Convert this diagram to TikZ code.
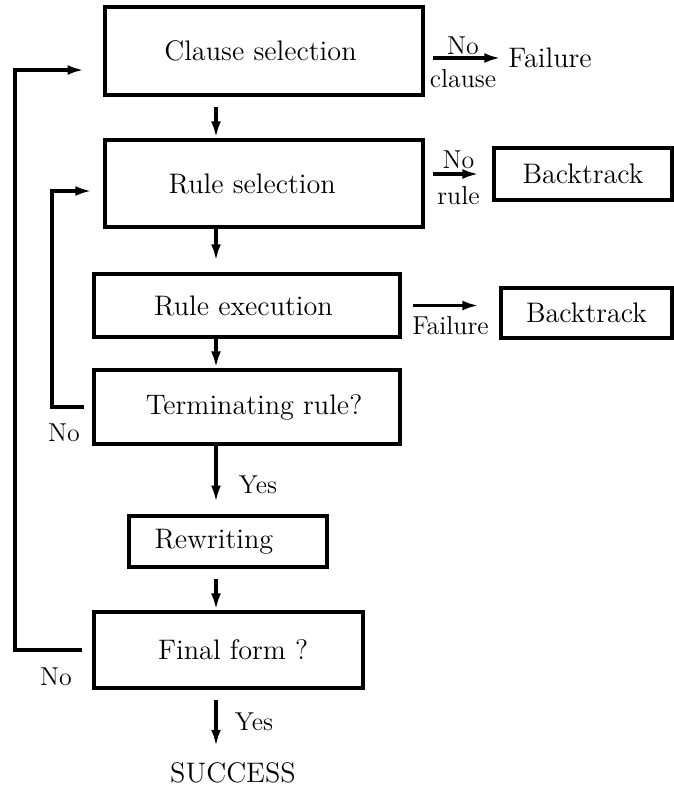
\documentclass[tikz,border=0pt]{standalone}
\usepackage{tikz}
\usetikzlibrary{arrows.meta, positioning}
\tikzset{
    box/.style={rectangle, draw, line width=1.8pt, inner sep=0pt, font=\fontsize{12}{14}\selectfont},
    plain/.style={inner sep=3pt, font=\fontsize{12}{14}\selectfont},
    lbl/.style={inner sep=2pt, font=\fontsize{11}{13}\selectfont},
    flow/.style={-{Latex[length=7pt, width=4.2pt]}, line width=1.5pt}
}

\begin{document}
\begin{tikzpicture}[x=0.425pt, y=-0.425pt]
    \useasboundingbox (0,0) rectangle (674,787);

    % Main chain
    \node[box, minimum width=135.2pt, minimum height=37.4pt] (clause) at (264,51) {Clause selection\kern3pt};
    \node[box, minimum width=135.2pt, minimum height=37pt] (rulesel) at (264,183.5) {Rule selection\kern10pt};
    \node[box, minimum width=130pt, minimum height=26.8pt] (ruleexec) at (247,305.5) {Rule execution\kern3pt};
    \node[box, minimum width=130pt, minimum height=31.5pt] (term) at (247,407) {\kern6pt Terminating rule?};
    \node[box, minimum width=84.2pt, minimum height=21.7pt] (rewrite) at (228,541.5) {Rewriting\kern12pt};
    \node[box, minimum width=114.3pt, minimum height=32.3pt] (final) at (228.5,650) {\kern4pt Final form ?};
    \node[plain, inner sep=0pt] (success) at (233,773) {SUCCESS};

    % Exits on the right
    \node[plain] (failure) at (550,58) {Failure};
    \node[box, minimum width=75.7pt, minimum height=22.1pt] (back1) at (583,174) {Backtrack};
    \node[box, minimum width=72.7pt, minimum height=21.3pt] (back2) at (586.5,313) {Backtrack};

    % Loop corners
    \coordinate (spine) at (216,0);
    \coordinate (inner) at (52,191);
    \coordinate (outer) at (15,70);

    % Downward flow
    \draw[flow, shorten <=4.2pt] (clause.south -| spine) -- (rulesel.north -| spine);
    \draw[flow, shorten >=4.7pt] (rulesel.south -| spine) -- (ruleexec.north -| spine);
    \draw[flow] (ruleexec.south -| spine) -- (term.north -| spine);
    \draw[flow, shorten >=5pt] (term.south -| spine) -- (rewrite.north -| spine);
    \draw[flow, shorten <=4.2pt] (rewrite.south -| spine) -- (final.north -| spine);
    \draw[flow, shorten <=4.2pt, shorten >=6.8pt] (final.south -| spine) -- (success.north -| spine);
    \node[lbl] (yes1) at (258,485) {Yes};
    \node[lbl] (yes2) at (254,722) {Yes};

    % Side exits
    \draw[flow, shorten <=3.4pt] (clause.east |- failure) -- (failure.west)
        node[lbl, midway, above, inner sep=0.5pt] {No}
        node[lbl, midway, below, inner sep=4pt] {clause};
    \draw[flow, shorten <=3.4pt, shorten >=5.5pt] (rulesel.east |- back1.west) -- (back1.west)
        node[lbl, midway, above, inner sep=1.5pt] {No}
        node[lbl, midway, below, inner sep=4.5pt] {rule};
    \draw[flow, shorten <=4.7pt, shorten >=8.5pt] (ruleexec.east) -- (back2.west |- ruleexec.east)
        node[lbl, midway, below, inner sep=4pt] {Failure};

    % Loops back
    \draw[flow] ([xshift=-3.4pt]term.west) -| (inner) -- ([xshift=-4.7pt]rulesel.west |- inner);
    \node[lbl] (no1) at (64,433) {No};
    \draw[flow] ([xshift=-4.2pt]final.west) -| (outer) -- ([xshift=-8pt]clause.west |- outer);
    \node[lbl] (no2) at (56,677) {No};
\end{tikzpicture}
\end{document}
